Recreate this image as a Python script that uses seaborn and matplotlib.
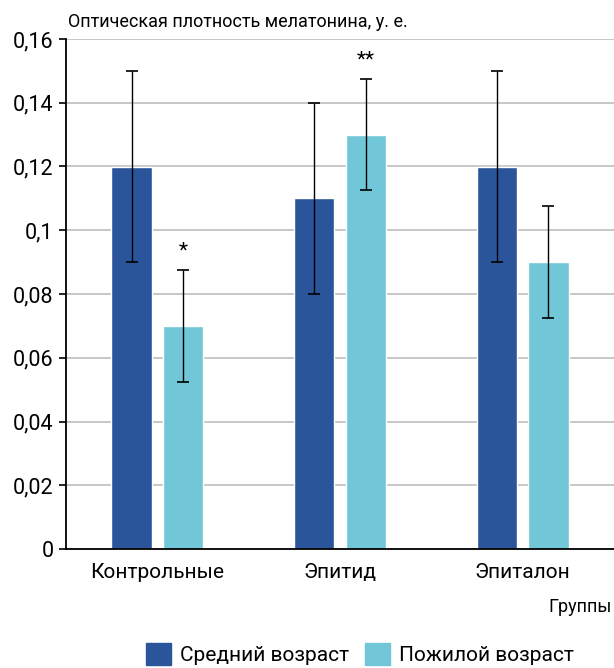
import matplotlib
matplotlib.use("Agg")
import matplotlib.pyplot as plt
import matplotlib.ticker as mticker
import pandas as pd
import seaborn as sns

# data
groups = ["Контрольные", "Эпитид", "Эпиталон"]
ages = ["Средний возраст", "Пожилой возраст"]
middle = [0.12, 0.11, 0.12]
elderly = [0.07, 0.13, 0.09]
middle_err = [0.03, 0.03, 0.03]
elderly_err = [0.0175, 0.0175, 0.0175]
marks = ["*", "**", ""]  # significance over elderly bars

colors = ["#2A559B", "#71C6D7"]

df = pd.DataFrame({
    "group": groups * 2,
    "age": [ages[0]] * 3 + [ages[1]] * 3,
    "value": middle + elderly,
    "err": middle_err + elderly_err,
})

sns.set_theme(style="white")
plt.rcParams["font.family"] = ["Roboto", "DejaVu Sans"]
plt.rcParams["text.color"] = "black"
plt.rcParams["xtick.color"] = "black"
plt.rcParams["ytick.color"] = "black"

fig = plt.figure(figsize=(6.14, 6.68), dpi=100)
ax = fig.add_axes([66 / 614, 1 - 549 / 668, 1 - 66 / 614, (549 - 39) / 668])

sns.barplot(data=df, x="group", y="value", hue="age", order=groups, hue_order=ages,
            palette=colors, width=0.564, gap=0.22, errorbar=None, legend=False,
            saturation=1, ax=ax)

# error bars from bar centres
for i, age in enumerate(ages):
    sub = df[df["age"] == age].set_index("group").loc[groups]
    bars = ax.containers[i]
    xs = [b.get_x() + b.get_width() / 2 for b in bars]
    ax.errorbar(xs, sub["value"], yerr=sub["err"], fmt="none", ecolor="black",
                elinewidth=1, capsize=4.5, capthick=1.2, zorder=5)
    if age == ages[1]:
        for x, v, e, m in zip(xs, sub["value"], sub["err"], marks):
            if m:
                ax.text(x, v + e + 0.003, m, ha="center", va="bottom", fontsize=15)

ax.set_xlim(-0.5, 2.5)
ax.set_ylim(0, 0.16)
ax.yaxis.set_major_locator(mticker.MultipleLocator(0.02))
ax.yaxis.set_major_formatter(mticker.FuncFormatter(
    lambda v, p: "0" if v == 0 else ("%g" % round(v, 2)).replace(".", ",")))
ax.grid(axis="y", color="#BDBDBD", linewidth=1.2)
ax.set_axisbelow(True)

ax.set_xlabel("")
ax.set_ylabel("")
ax.xaxis.set_minor_locator(mticker.FixedLocator([-0.5, 0.5, 1.5, 2.5]))
ax.tick_params(axis="x", which="major", length=0, labelsize=15, pad=10)
ax.tick_params(axis="x", which="minor", length=5, width=1.2, color="black", direction="out")
ax.tick_params(axis="y", length=5, width=1.2, color="black", direction="out",
               labelsize=15.5, pad=4, left=True)

for s in ["top", "right"]:
    ax.spines[s].set_visible(False)
for s in ["left", "bottom"]:
    ax.spines[s].set_color("black")
    ax.spines[s].set_linewidth(1.3)

fig.text(68 / 614, 1 - 22 / 668, "Оптическая плотность мелатонина, у. е.",
         ha="left", va="center", fontsize=13)
fig.text(612 / 614, 1 - 607 / 668, "Группы", ha="right", va="center", fontsize=13)

handles = [plt.Rectangle((0, 0), 1, 1, color=c) for c in colors]
fig.legend(handles, ages, loc="center", bbox_to_anchor=(360 / 614, 1 - 654 / 668),
           ncol=2, frameon=False, fontsize=15, handlelength=1.2, handleheight=1.2,
           handletextpad=0.4, columnspacing=0.8)

fig.savefig("out.png", dpi=100)
